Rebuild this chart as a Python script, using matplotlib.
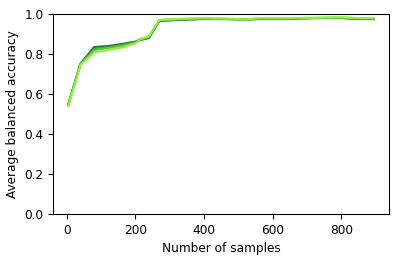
import matplotlib
matplotlib.use("Agg")
import matplotlib.pyplot as plt

samples = [5, 40, 80, 120, 160, 185, 200, 215, 240, 270, 320, 400, 480, 520, 560, 640, 720, 800, 850, 895]
acc_a = [0.55, 0.75, 0.835, 0.84, 0.85, 0.858, 0.862, 0.87, 0.88, 0.965, 0.97, 0.975, 0.975, 0.972, 0.975, 0.975, 0.98, 0.98, 0.975, 0.975]
acc_b = [0.55, 0.75, 0.825, 0.835, 0.845, 0.855, 0.86, 0.875, 0.885, 0.968, 0.972, 0.976, 0.974, 0.972, 0.976, 0.976, 0.98, 0.98, 0.978, 0.976]
acc_c = [0.545, 0.745, 0.82, 0.83, 0.84, 0.85, 0.855, 0.872, 0.885, 0.97, 0.974, 0.978, 0.975, 0.972, 0.978, 0.978, 0.98, 0.982, 0.978, 0.978]
acc_d = [0.54, 0.745, 0.808, 0.82, 0.832, 0.845, 0.852, 0.875, 0.89, 0.97, 0.975, 0.98, 0.977, 0.972, 0.98, 0.98, 0.982, 0.984, 0.98, 0.98]
series = [acc_a, acc_b, acc_c, acc_d]
colors = ["#2f6b3f", "#3a9a48", "#55c83a", "#8ef23a"]

plt.rcParams["font.size"] = 8.7
fig = plt.figure(figsize=(3.99, 2.6), dpi=100)
ax = fig.add_axes([0.133, 0.177, 0.842, 0.769])
for ys, c in zip(series, colors):
    ax.plot(samples, ys, color=c, linewidth=1.5)
ax.set_ylim(0.0, 1.0)
ax.set_xticks([0, 200, 400, 600, 800])
ax.set_yticks([0.0, 0.2, 0.4, 0.6, 0.8, 1.0])
ax.set_xlabel("Number of samples")
ax.set_ylabel("Average balanced accuracy")
fig.savefig("out.png", dpi=100)
